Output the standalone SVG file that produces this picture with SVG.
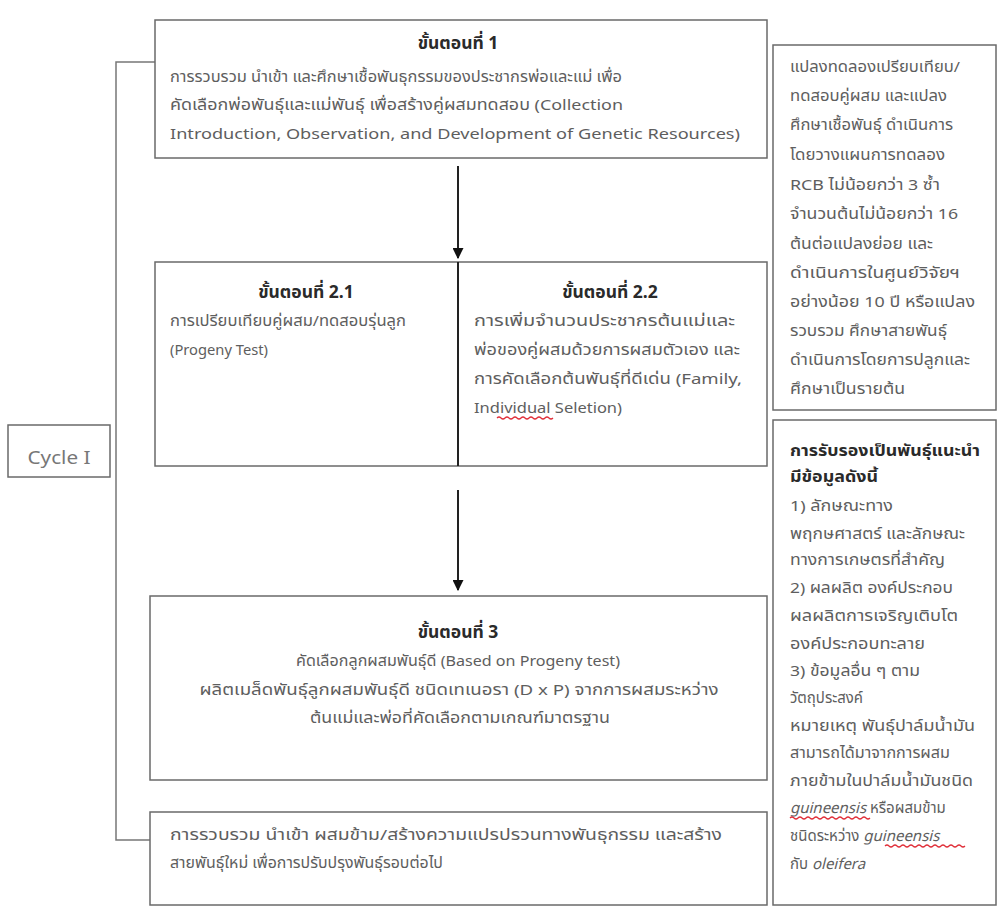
<svg xmlns="http://www.w3.org/2000/svg" width="1001" height="917" viewBox="0 0 1001 917">
<defs>
<style>
.box{fill:#fff;stroke:#6a6a6a;stroke-width:1.5}
.t{font-family:"Noto Sans Thai","Tahoma","Noto Sans","DejaVu Sans",sans-serif;font-size:15px;fill:#5e5e5e}
.h{font-family:"Noto Sans Thai","Tahoma","Noto Sans","DejaVu Sans",sans-serif;font-size:17.5px;font-weight:bold;fill:#2a2a2a}
.hb{font-family:"Noto Sans Thai","Tahoma","Noto Sans","DejaVu Sans",sans-serif;font-size:15px;font-weight:bold;fill:#2a2a2a}
.c{text-anchor:middle}
.conn{stroke:#222;stroke-width:2;fill:none}
.br{stroke:#777;stroke-width:1.5;fill:none}
.wave{stroke:#e0303a;stroke-width:1.2;fill:none}
</style>
<marker id="arr" viewBox="0 0 10 10" refX="9" refY="5" markerWidth="5.5" markerHeight="5.5" orient="auto" markerUnits="strokeWidth">
<path d="M0,0 L10,5 L0,10 z" fill="#111"/>
</marker>
</defs>
<rect width="1001" height="917" fill="#fff"/>

<g id="connectors">
<path class="br" d="M155,62 H116 V840 H152"/>
<line class="conn" x1="458" y1="166" x2="458" y2="258" marker-end="url(#arr)"/>
<line class="conn" x1="458" y1="490" x2="458" y2="590" marker-end="url(#arr)"/>
</g>

<g id="step1">
<rect class="box" x="155" y="20" width="612" height="138"/>
<text class="h c" x="458" y="49">ขั้นตอนที่ 1</text>
<text class="t" x="170" y="82" textLength="452" lengthAdjust="spacingAndGlyphs">การรวบรวม นำเข้า และศึกษาเชื้อพันธุกรรมของประชากรพ่อและแม่ เพื่อ</text>
<text class="t" x="170" y="110" textLength="453" lengthAdjust="spacingAndGlyphs">คัดเลือกพ่อพันธุ์และแม่พันธุ์  เพื่อสร้างคู่ผสมทดสอบ (Collection</text>
<text class="t" x="170" y="139" textLength="570" lengthAdjust="spacingAndGlyphs">Introduction, Observation, and Development of Genetic Resources)</text>
</g>

<g id="step2">
<rect class="box" x="155" y="262" width="612" height="204"/>
<line class="conn" x1="458" y1="262" x2="458" y2="466"/>
<text class="h c" x="306" y="298">ขั้นตอนที่ 2.1</text>
<text class="t" x="170" y="326" textLength="236" lengthAdjust="spacingAndGlyphs">การเปรียบเทียบคู่ผสม/ทดสอบรุ่นลูก</text>
<text class="t" x="170" y="355" textLength="98" lengthAdjust="spacingAndGlyphs">(Progeny Test)</text>
<text class="h c" x="610" y="298">ขั้นตอนที่ 2.2</text>
<text class="t" x="474" y="326" textLength="261" lengthAdjust="spacingAndGlyphs">การเพิ่มจำนวนประชากรต้นแม่และ</text>
<text class="t" x="474" y="355" textLength="266" lengthAdjust="spacingAndGlyphs">พ่อของคู่ผสมด้วยการผสมตัวเอง และ</text>
<text class="t" x="474" y="384" textLength="268" lengthAdjust="spacingAndGlyphs">การคัดเลือกต้นพันธุ์ที่ดีเด่น (Family,</text>
<text class="t" x="474" y="413" textLength="148" lengthAdjust="spacingAndGlyphs">Individual Seletion)</text>
<path class="wave" d="M497,418 q2,-2 4,0 t4,0 t4,0 t4,0 t4,0 t4,0 t4,0 t4,0 t4,0 t4,0 t4,0 t4,0 t4,0 t4,0"/>
</g>

<g id="step3">
<rect class="box" x="150" y="596" width="617" height="184"/>
<text class="h c" x="458" y="638">ขั้นตอนที่ 3</text>
<text class="t c" x="458" y="666" textLength="324" lengthAdjust="spacingAndGlyphs">คัดเลือกลูกผสมพันธุ์ดี (Based on Progeny test)</text>
<text class="t c" x="459" y="695" textLength="519" lengthAdjust="spacingAndGlyphs">ผลิตเมล็ดพันธุ์ลูกผสมพันธุ์ดี  ชนิดเทเนอรา  (D x P) จากการผสมระหว่าง</text>
<text class="t c" x="460" y="723" textLength="300" lengthAdjust="spacingAndGlyphs">ต้นแม่และพ่อที่คัดเลือกตามเกณฑ์มาตรฐาน</text>
</g>

<g id="step4">
<rect class="box" x="150" y="812" width="617" height="93"/>
<text class="t" x="170" y="840" textLength="552" lengthAdjust="spacingAndGlyphs">การรวบรวม นำเข้า ผสมข้าม/สร้างความแปรปรวนทางพันธุกรรม  และสร้าง</text>
<text class="t" x="170" y="868" textLength="273" lengthAdjust="spacingAndGlyphs">สายพันธุ์ใหม่ เพื่อการปรับปรุงพันธุ์รอบต่อไป</text>
</g>

<g id="cycle">
<rect class="box" x="8" y="425" width="102" height="52"/>
<text class="t c" x="59" y="464" style="font-size:18px;fill:#777" textLength="63" lengthAdjust="spacingAndGlyphs">Cycle I</text>
</g>

<g id="note1">
<rect class="box" x="773" y="45" width="223" height="365"/>
<text class="t" x="790" y="72" textLength="170" lengthAdjust="spacingAndGlyphs">แปลงทดลองเปรียบเทียบ/</text>
<text class="t" x="790" y="101" textLength="157" lengthAdjust="spacingAndGlyphs">ทดสอบคู่ผสม และแปลง</text>
<text class="t" x="790" y="130" textLength="163" lengthAdjust="spacingAndGlyphs">ศึกษาเชื้อพันธุ์ ดำเนินการ</text>
<text class="t" x="790" y="160" textLength="155" lengthAdjust="spacingAndGlyphs">โดยวางแผนการทดลอง</text>
<text class="t" x="790" y="190" textLength="150" lengthAdjust="spacingAndGlyphs">RCB ไม่น้อยกว่า 3 ซ้ำ</text>
<text class="t" x="790" y="219" textLength="168" lengthAdjust="spacingAndGlyphs">จำนวนต้นไม่น้อยกว่า 16</text>
<text class="t" x="790" y="249" textLength="143" lengthAdjust="spacingAndGlyphs">ต้นต่อแปลงย่อย และ</text>
<text class="t" x="790" y="278" textLength="170" lengthAdjust="spacingAndGlyphs">ดำเนินการในศูนย์วิจัยฯ</text>
<text class="t" x="790" y="307" textLength="185" lengthAdjust="spacingAndGlyphs">อย่างน้อย 10 ปี หรือแปลง</text>
<text class="t" x="790" y="336" textLength="157" lengthAdjust="spacingAndGlyphs">รวบรวม ศึกษาสายพันธุ์</text>
<text class="t" x="790" y="365" textLength="180" lengthAdjust="spacingAndGlyphs">ดำเนินการโดยการปลูกและ</text>
<text class="t" x="790" y="394" textLength="115" lengthAdjust="spacingAndGlyphs">ศึกษาเป็นรายต้น</text>
</g>

<g id="note2">
<rect class="box" x="773" y="420" width="223" height="485"/>
<text class="hb" x="790" y="456" textLength="190" lengthAdjust="spacingAndGlyphs">การรับรองเป็นพันธุ์แนะนำ</text>
<text class="hb" x="790" y="482" textLength="88" lengthAdjust="spacingAndGlyphs">มีข้อมูลดังนี้</text>
<text class="t" x="790" y="511" textLength="103" lengthAdjust="spacingAndGlyphs">1) ลักษณะทาง</text>
<text class="t" x="790" y="539" textLength="175" lengthAdjust="spacingAndGlyphs">พฤกษศาสตร์ และลักษณะ</text>
<text class="t" x="790" y="565" textLength="155" lengthAdjust="spacingAndGlyphs">ทางการเกษตรที่สำคัญ</text>
<text class="t" x="790" y="593" textLength="163" lengthAdjust="spacingAndGlyphs">2) ผลผลิต องค์ประกอบ</text>
<text class="t" x="790" y="621" textLength="168" lengthAdjust="spacingAndGlyphs">ผลผลิตการเจริญเติบโต</text>
<text class="t" x="790" y="649" textLength="135" lengthAdjust="spacingAndGlyphs">องค์ประกอบทะลาย</text>
<text class="t" x="790" y="676" textLength="130" lengthAdjust="spacingAndGlyphs">3) ข้อมูลอื่น ๆ ตาม</text>
<text class="t" x="790" y="703" textLength="73" lengthAdjust="spacingAndGlyphs">วัตถุประสงค์</text>
<text class="t" x="790" y="731" textLength="185" lengthAdjust="spacingAndGlyphs">หมายเหตุ พันธุ์ปาล์มน้ำมัน</text>
<text class="t" x="790" y="758" textLength="160" lengthAdjust="spacingAndGlyphs">สามารถได้มาจากการผสม</text>
<text class="t" x="790" y="786" textLength="183" lengthAdjust="spacingAndGlyphs">ภายข้ามในปาล์มน้ำมันชนิด</text>
<text class="t" x="790" y="813"><tspan font-style="italic">guineensis</tspan> หรือผสมข้าม</text>
<path class="wave" d="M790,818 q2,-2 4,0 t4,0 t4,0 t4,0 t4,0 t4,0 t4,0 t4,0 t4,0 t4,0 t4,0 t4,0 t4,0 t4,0 t4,0 t4,0 t4,0 t4,0 t4,0 t4,0"/>
<text class="t" x="790" y="841">ชนิดระหว่าง <tspan font-style="italic">guineensis</tspan></text>
<path class="wave" d="M885,846 q2,-2 4,0 t4,0 t4,0 t4,0 t4,0 t4,0 t4,0 t4,0 t4,0 t4,0 t4,0 t4,0 t4,0 t4,0 t4,0 t4,0 t4,0 t4,0 t4,0 t4,0"/>
<text class="t" x="790" y="869">กับ <tspan font-style="italic">oleifera</tspan></text>
</g>
</svg>
